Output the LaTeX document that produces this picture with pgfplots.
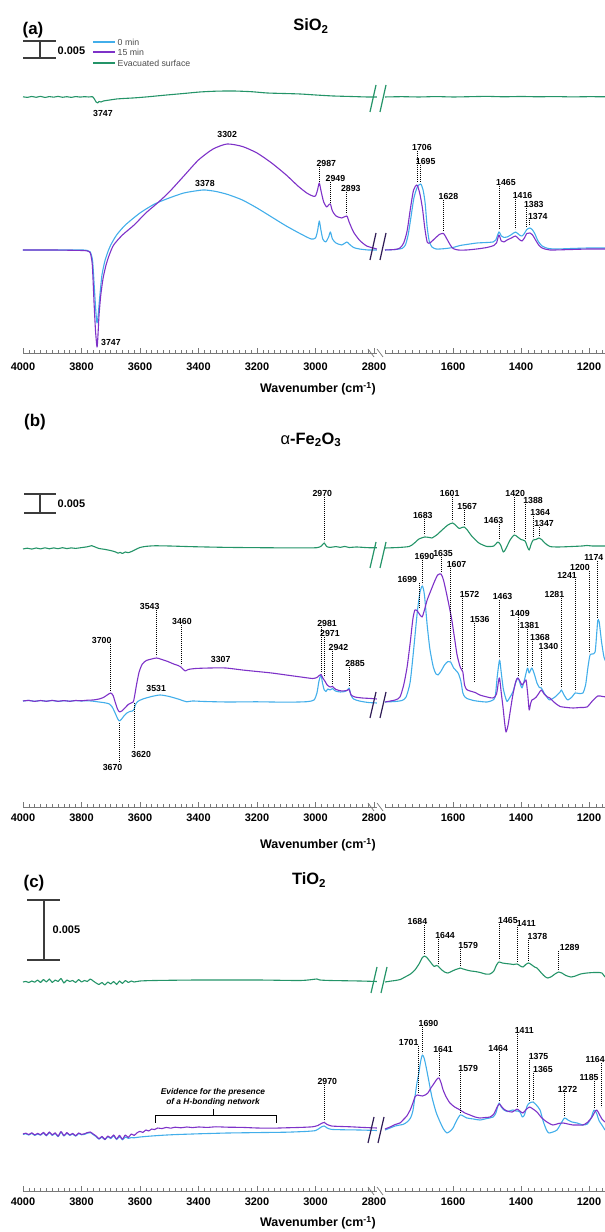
\documentclass[border=0pt]{standalone}
\usepackage{fontspec}
\setmainfont{Liberation Sans}
\usepackage{pgfplots}
\pgfplotsset{compat=1.18}

\definecolor{cblue}{RGB}{66,174,234}
\definecolor{cpurple}{RGB}{126,50,200}
\definecolor{cgreen}{RGB}{36,148,104}
\definecolor{cbrk}{RGB}{48,28,86}
\definecolor{caxis}{RGB}{120,120,120}
\definecolor{cbar}{RGB}{60,60,60}

\pgfplotsset{
  spec/.style={
    scale only axis, height=300bp, ymin=0, ymax=300,
    x dir=reverse, enlargelimits=false, clip=false,
    axis x line*=bottom, axis y line=none, ytick=\empty,
    tick align=inside, major tick length=5bp, minor tick length=2.5bp,
    every tick/.style={caxis, line width=0.6bp},
    x axis line style={caxis, line width=0.8bp},
    xticklabel style={font=\fontsize{11}{12}\selectfont\bfseries},
    /pgf/number format/assume math mode=true,
    /pgf/number format/1000 sep={},
    every axis plot/.append style={line width=1.1bp, line join=round, smooth, tension=0.4},
  },
  leftseg/.style={spec, xmin=2790, xmax=4000, width=353.9bp,
    xtick={2800,3000,...,4000}, minor xtick={2800,2820,...,4000}},
  rightseg/.style={spec, xmin=1150, xmax=1800, width=221bp,
    xtick={1200,1400,1600}, minor xtick={1160,1180,...,1800}},
}
\tikzset{
  lbl/.style={font=\fontsize{8.8}{10}\selectfont\bfseries, inner sep=0.5bp},
  dotl/.style={black, line width=0.7bp, dash pattern=on 0.9bp off 1.1bp},
  brk/.style={line width=1.2bp},
}
% peak label: [xshift]{wavenumber}{top of line}{bottom of line}{text}
\newcommand{\pk}[5][0]{%
  \draw[dotl] (#2,#3) -- (#2,#4);
  \node[lbl, anchor=south, xshift=#1bp] at (#2,#3) {#5};}
% break marks on the x axis (row of axis line)
\newcommand{\axbrk}[1]{%
  \draw[caxis, line width=0.7bp] (368,1232-#1+4) -- (374,1232-#1-4);
  \draw[caxis, line width=0.7bp] (377,1232-#1+4) -- (383,1232-#1-4);}
% break marks on a curve: colour, left x, top row, bottom row
\newcommand{\cbrk}[4]{%
  \draw[#1, brk] (#2,1232-#4) -- (#2+6,1232-#3);
  \draw[#1, brk] (#2+10,1232-#4) -- (#2+16,1232-#3);}
\newcommand{\tfont}{\fontsize{16.5}{18}\selectfont\bfseries}
\newcommand{\xlab}{\fontsize{12.5}{14}\selectfont\bfseries Wavenumber (cm\textsuperscript{-1})}

\begin{document}
\begin{tikzpicture}[x=1bp, y=1bp]
\useasboundingbox (0,0) rectangle (605,1232);

%=========================== (a) SiO2 ===========================
\begin{axis}[leftseg, xticklabel shift=6bp, at={(23bp,879bp)}, anchor=south west]
\addplot[cgreen] coordinates {
(4000,256.2) (3985,255.6) (3970,256.5) (3955,255.7) (3940,256.6) (3925,255.5)
(3910,256.4) (3895,255.8) (3880,256.6) (3865,255.7) (3850,256.3) (3835,255.6)
(3820,256.4) (3805,255.9) (3790,256.3) (3775,256.0) (3762,256.2) (3755,253.5)
(3750,251) (3745,250) (3740,251.5) (3733,251) (3725,252) (3715,252.5) (3703,253)
(3680,254) (3650,254.6) (3624,255) (3580,256) (3508,258) (3450,259.5) (3395,261)
(3340,261.8) (3282,262) (3220,261.3) (3166,260) (3110,259.5) (3053,259) (3000,258)
(2940,257) (2880,256.5) (2824,256) (2790,256)};
\addplot[cblue] coordinates {
(4000,103) (3900,103) (3800,103) (3780,102.5) (3770,101) (3762,92) (3756,65)
(3751,42) (3747,30) (3743,38) (3737,58) (3730,78) (3720,92) (3710,101) (3700,108)
(3680,118) (3650,128) (3600,140) (3550,149) (3500,155) (3450,160) (3400,162.5)
(3378,163) (3340,161.5) (3300,158.5) (3250,153) (3200,145) (3150,136) (3100,127)
(3050,119) (3015,114) (3000,115) (2993,122) (2987,132) (2982,124) (2975,114)
(2965,111) (2955,116) (2949,121) (2942,114) (2930,110) (2910,108) (2893,111)
(2885,109) (2870,105.5) (2850,104) (2820,103) (2790,103)};
\addplot[cpurple] coordinates {
(4000,103) (3900,103) (3800,102.5) (3780,102) (3770,100) (3763,88) (3757,50)
(3752,22) (3747,6) (3744,16) (3740,38) (3734,58) (3726,75) (3716,88) (3705,98)
(3690,108) (3660,118) (3620,128) (3580,140) (3540,150) (3500,161) (3450,177)
(3400,193) (3350,204) (3302,209) (3250,206.5) (3200,200) (3150,190) (3100,178)
(3060,167) (3030,160) (3010,157) (3000,157) (2993,163) (2987,170) (2981,162)
(2972,151) (2962,146) (2955,148) (2949,149) (2942,142) (2930,137) (2910,135)
(2893,137) (2885,131) (2870,121) (2850,113) (2825,107) (2790,104)};
\node[lbl, xshift=6bp] at (3747,239) {3747};
\node[lbl] at (3302,218) {3302};
\node[lbl] at (3378,169) {3378};
\node[lbl, xshift=14bp] at (3747,10) {3747};
\pk[7]{2987}{186}{171}{2987}
\pk[5]{2949}{171}{150}{2949}
\pk[4]{2893}{161}{139}{2893}
\end{axis}

\begin{axis}[rightseg, xticklabel shift=6bp, at={(385bp,879bp)}, anchor=south west]
\addplot[cgreen] coordinates {
(1800,256) (1750,256.3) (1700,256) (1650,256.4) (1600,256) (1550,256.3)
(1500,256.6) (1450,256.2) (1400,256.5) (1350,256.2) (1300,256.4) (1250,256.1)
(1200,256.3) (1150,256.2)};
\addplot[cblue] coordinates {
(1800,103) (1770,103.5) (1750,104.5) (1740,108) (1732,118) (1724,135) (1715,155)
(1705,166) (1695,169) (1688,163) (1682,150) (1676,126) (1670,112) (1662,106)
(1650,104) (1638,104) (1620,104.5) (1600,105.5) (1579,107.5) (1550,109)
(1529,110) (1500,110.5) (1482,111) (1474,113) (1465,121) (1458,117) (1450,115.5)
(1441,116) (1430,118) (1416,121) (1405,118) (1397,117) (1390,119.5) (1383,123.5)
(1374,125) (1366,123) (1359,119) (1350,112) (1338,107) (1320,104.5) (1294,104)
(1250,104.5) (1200,105) (1150,105)};
\addplot[cpurple] coordinates {
(1800,103) (1770,103.5) (1756,105) (1745,110) (1735,122) (1725,145) (1716,163)
(1706,168) (1698,160) (1690,145) (1683,125) (1676,111) (1668,110) (1655,114)
(1640,118.5) (1628,119.5) (1618,114) (1608,108) (1600,104.5) (1585,103)
(1560,103) (1530,104) (1500,105.5) (1480,107.5) (1472,110) (1465,118) (1458,112)
(1450,111) (1441,113) (1428,115) (1416,117) (1405,113.5) (1397,112) (1390,115)
(1383,119.5) (1374,120) (1366,118) (1359,114) (1348,108) (1338,105) (1315,103)
(1250,103.5) (1200,104) (1150,104)};
\pk[5]{1706}{202}{171}{1706}
\pk[5]{1695}{188}{171}{1695}
\pk[5]{1628}{153}{122}{1628}
\pk[7]{1465}{167}{124}{1465}
\pk[7]{1416}{154}{124}{1416}
\pk[7]{1383}{145}{126}{1383}
\pk[8]{1374}{133}{128}{1374}
\end{axis}

%=========================== (b) Fe2O3 ===========================
\begin{axis}[leftseg, xticklabel shift=3.5bp, at={(23bp,425bp)}, anchor=south west]
\addplot[cgreen] coordinates {
(4000,258) (3985,258.8) (3970,257.9) (3955,259) (3940,258.1) (3925,259.2)
(3910,258.2) (3895,259.1) (3880,258.3) (3865,259.3) (3850,258.4) (3835,259.1)
(3820,258.6) (3800,259.4) (3780,260.2) (3765,261.3) (3755,260.2) (3740,258.5)
(3720,257.6) (3700,256.4) (3685,255.2) (3675,253.8) (3668,254.6) (3660,253.5)
(3650,255) (3640,254.3) (3628,255.6) (3615,257.5) (3600,259.5) (3580,260.6)
(3550,261.2) (3500,261) (3420,260.3) (3300,259.6) (3150,259.2) (3050,259.1)
(2995,259.3) (2980,261) (2970,264) (2962,260.5) (2950,259.6) (2930,260.4)
(2915,259.6) (2900,260.6) (2885,259.5) (2860,260) (2820,259.3) (2790,259.2)};
\addplot[cblue] coordinates {
(4000,106) (3980,106.5) (3960,105.7) (3940,106.4) (3920,105.8) (3900,106.5)
(3880,105.6) (3860,106.3) (3840,105.8) (3820,106.4) (3800,106) (3780,106.2)
(3760,105.8) (3740,105) (3720,104.2) (3705,103) (3695,100) (3685,94) (3676,88)
(3670,86) (3664,87.5) (3655,91) (3645,94) (3635,95.5) (3626,96) (3621,97)
(3616,102) (3608,105.5) (3590,108) (3560,110.5) (3531,112) (3500,110.5)
(3470,108) (3450,106) (3440,105.2) (3420,106) (3380,105.5) (3300,105)
(3200,105.2) (3100,104.8) (3030,105.3) (3005,107) (2995,114) (2988,126)
(2981,132) (2976,124) (2970,117) (2964,115.5) (2958,118) (2950,117) (2942,118.5)
(2932,116) (2915,115) (2900,115.5) (2890,117) (2885,119) (2879,112) (2870,108)
(2850,106) (2820,104.5) (2790,104)};
\addplot[cpurple] coordinates {
(4000,106) (3980,106.6) (3960,105.6) (3940,106.5) (3920,105.7) (3900,106.6)
(3880,105.7) (3860,106.4) (3840,105.7) (3820,106.5) (3800,106.2) (3780,106.8)
(3760,107) (3740,108) (3725,109.5) (3712,112) (3700,114) (3692,111.5) (3685,105)
(3677,98) (3670,95) (3662,96) (3650,99.5) (3640,102.5) (3630,104) (3623,105)
(3619,110) (3612,122) (3603,135) (3592,143) (3578,146.5) (3560,148) (3543,149)
(3525,147.5) (3505,145.5) (3485,143) (3470,141.5) (3460,140) (3452,137.5)
(3445,136) (3435,137.5) (3410,138.5) (3360,139) (3307,139) (3250,137)
(3200,135.5) (3150,134) (3100,132) (3050,130) (3010,128.5) (2995,129.5)
(2987,131.5) (2981,132.5) (2975,129) (2968,126) (2960,122) (2950,120)
(2942,120.5) (2930,117.5) (2910,116) (2893,116.5) (2885,117.5) (2878,112)
(2865,110) (2840,109) (2810,108.5) (2790,108)};
\pk[-2]{2970}{310}{266}{2970}
\pk[-9]{3700}{163}{116}{3700}
\pk[-7]{3543}{197}{151}{3543}
\pk[1]{3460}{182}{142}{3460}
\pk[6]{2981}{180}{134}{2981}
\pk[6]{2971}{170}{130}{2971}
\pk[6]{2942}{156}{122}{2942}
\pk[6]{2885}{140}{121}{2885}
\node[lbl, xshift=-5bp] at (3307,148) {3307};
\node[lbl, xshift=-4bp] at (3531,119) {3531};
\draw[dotl] (3670,84) -- (3670,45);
\node[lbl, xshift=-7bp] at (3670,40) {3670};
\draw[dotl] (3620,104) -- (3620,58);
\node[lbl, xshift=7bp] at (3620,53) {3620};
\end{axis}

\begin{axis}[rightseg, xticklabel shift=3.5bp, at={(385bp,425bp)}, anchor=south west]
\addplot[cgreen] coordinates {
(1800,259) (1760,259.5) (1729,260.5) (1715,263.5) (1700,268) (1683,270)
(1670,269.5) (1662,269) (1648,272) (1632,277) (1615,282) (1601,284) (1590,281)
(1582,278.5) (1574,279.5) (1567,280) (1558,277) (1545,271) (1524,264)
(1500,260.5) (1480,261) (1468,265) (1460,262) (1452,255) (1445,258) (1432,267)
(1420,272) (1410,270) (1400,267.5) (1388,266) (1381,260) (1376,257) (1370,263)
(1364,267) (1356,267.5) (1347,269) (1338,267) (1330,264) (1315,260.5)
(1290,260) (1250,260.5) (1220,261) (1206,261.5) (1190,261) (1150,261)};
\addplot[cblue] coordinates {
(1800,105) (1770,105.5) (1750,106.5) (1738,110) (1726,125) (1715,160) (1705,195)
(1697,215) (1690,221) (1684,212) (1676,182) (1668,158) (1658,140) (1650,133)
(1644,132) (1635,136) (1625,142) (1615,145.5) (1607,145) (1598,139) (1585,134)
(1577,126) (1571,114) (1565,110) (1559,108.5) (1540,106.5) (1520,105.5)
(1500,105) (1485,106.5) (1476,110) (1470,130) (1463,147) (1458,134) (1452,118)
(1446,110) (1441,105.5) (1432,110) (1424,115) (1416,124) (1409,129) (1403,124)
(1397,119) (1390,127) (1381,139) (1376,134) (1368,139) (1360,132) (1353,124)
(1346,119.5) (1340,119) (1332,114) (1322,109) (1315,107) (1300,110) (1285,115)
(1281,117) (1275,113) (1268,109) (1262,107) (1250,110) (1241,114) (1230,113.5)
(1218,114) (1210,122) (1203,140) (1197,152) (1190,153) (1182,155) (1177,175)
(1174,187) (1170,185) (1163,165) (1156,150) (1150,145)};
\addplot[cpurple] coordinates {
(1800,105) (1770,107) (1756,110) (1745,122) (1735,140) (1726,164) (1718,188)
(1712,197) (1705,196) (1699,193) (1691,190) (1684,197) (1676,207) (1668,214)
(1655,225) (1645,232) (1635,233) (1628,227) (1620,215) (1612,202) (1604,188)
(1596,170) (1588,152) (1579,140) (1574,137) (1571,135) (1566,122) (1560,117.5)
(1550,116) (1535,114.5) (1521,112) (1500,110) (1482,109) (1472,113) (1466,126)
(1463,129) (1458,114) (1453,100) (1448,84) (1444,75) (1438,82) (1432,95)
(1424,112) (1415,126) (1409,129) (1402,125) (1397,122) (1390,125) (1385,127)
(1380,112) (1376,97) (1372,103) (1368,107) (1362,108) (1355,110) (1347,114)
(1340,117) (1332,113) (1322,110) (1315,109) (1300,104) (1285,100.5) (1265,99.5)
(1247,99) (1225,99.5) (1206,100) (1190,106) (1174,111) (1160,110.5) (1150,110)};
\pk[-2]{1683}{288}{272}{1683}
\pk[-3]{1601}{310}{286}{1601}
\pk[3]{1567}{297}{282}{1567}
\pk[-6]{1463}{283}{267}{1463}
\pk[1]{1420}{310}{274}{1420}
\pk[8]{1388}{303}{268}{1388}
\pk[7]{1364}{291}{269}{1364}
\pk[5]{1347}{280}{271}{1347}
\pk[-12]{1699}{224}{199}{1699}
\pk[2]{1690}{247}{223}{1690}
\pk[2]{1635}{250}{235}{1635}
\pk[6]{1607}{239}{147}{1607}
\pk[7]{1572}{209}{137}{1572}
\pk[5]{1536}{184}{125}{1536}
\pk[3]{1463}{207}{149}{1463}
\pk[2]{1409}{190}{131}{1409}
\pk[2]{1381}{178}{141}{1381}
\pk[8]{1368}{166}{141}{1368}
\pk[7]{1340}{157}{121}{1340}
\pk[-7]{1281}{209}{119}{1281}
\pk[-8]{1241}{228}{116}{1241}
\pk[-9]{1200}{236}{154}{1200}
\pk[-4]{1174}{246}{189}{1174}
\end{axis}

%=========================== (c) TiO2 ===========================
\begin{axis}[leftseg, xticklabel shift=3.5bp, at={(23bp,41bp)}, anchor=south west]
\addplot[cgreen] coordinates {
(4000,209) (3990,209.5) (3980,208.5) (3970,210) (3960,208.8) (3950,211)
(3940,208.5) (3930,211.5) (3920,209) (3910,212) (3900,208.5) (3890,211)
(3880,209.5) (3870,212.5) (3860,208) (3850,211) (3840,209.5) (3830,210.5)
(3820,208.5) (3810,211.5) (3800,209) (3790,210.5) (3780,209.5) (3770,212)
(3760,210) (3750,208) (3740,206.5) (3730,208.5) (3720,206) (3710,209) (3700,207)
(3690,209.5) (3680,206.5) (3670,210) (3660,207.5) (3650,210.5) (3640,208.5)
(3630,210) (3620,209) (3600,210) (3550,210.5) (3400,211) (3200,211) (3050,210.5)
(2995,212) (2985,211) (2950,210.5) (2850,210) (2790,209.5)};
\addplot[cblue] coordinates {
(4000,56.5) (3990,57.2) (3980,56) (3970,57.6) (3960,55.6) (3950,57) (3940,55.8)
(3930,58) (3920,55.2) (3910,58.4) (3900,55.6) (3890,57.6) (3880,54.4) (3870,58.8)
(3860,55) (3850,57.8) (3840,55.6) (3830,57) (3820,54.8) (3810,57.4) (3800,56.2)
(3790,56.6) (3780,57.8) (3770,58.4) (3760,56.4) (3750,54.4) (3740,51.8) (3730,54)
(3720,51.2) (3710,54.4) (3700,52.4) (3690,55.2) (3680,51.4) (3670,54.6)
(3660,51.2) (3650,54) (3640,52.6) (3630,53.4) (3620,53.2) (3600,54) (3560,55)
(3520,55.8) (3480,56.4) (3440,56.8) (3400,57.2) (3350,57.6) (3300,58) (3200,58.4)
(3100,58.8) (3030,59.6) (3000,60.4) (2990,62) (2980,64) (2970,65) (2960,63)
(2945,61.6) (2900,61.2) (2850,61) (2790,60.5)};
\addplot[cpurple] coordinates {
(4000,57) (3990,57.8) (3980,56.4) (3970,58.2) (3960,56) (3950,57.6) (3940,56.2)
(3930,58.6) (3920,55.6) (3910,59) (3900,56) (3890,58.2) (3880,54.8) (3870,59.4)
(3860,55.4) (3850,58.4) (3840,56) (3830,57.6) (3820,55.2) (3810,58) (3800,56.6)
(3790,57.2) (3780,58.4) (3770,59) (3760,57) (3750,55) (3740,52.2) (3730,54.6)
(3720,51.6) (3710,55) (3700,53) (3690,56) (3680,52) (3670,55.6) (3660,51.8)
(3650,56) (3640,53.4) (3630,57) (3620,55.6) (3610,58.2) (3600,59.6) (3590,58.6)
(3580,61) (3570,60) (3560,62) (3550,61.4) (3540,63) (3525,62.4) (3510,63.6)
(3495,62.8) (3480,63.8) (3460,63.2) (3440,64) (3420,63.4) (3400,64) (3370,63.6)
(3340,64.2) (3300,63.8) (3250,63.6) (3200,63) (3150,62.8) (3100,63.2) (3050,63.6)
(3010,64.2) (2992,65.5) (2980,67.5) (2970,68.5) (2960,66.5) (2945,65) (2920,64.6)
(2880,64.2) (2840,63.6) (2790,63)};
\pk[3]{2970}{106}{70}{2970}
\end{axis}

\begin{axis}[rightseg, xticklabel shift=3.5bp, at={(385bp,41bp)}, anchor=south west]
\addplot[cgreen] coordinates {
(1800,209) (1785,209.8) (1770,210.5) (1755,211.5) (1741,214) (1725,217) (1712,221)
(1700,227) (1690,233.5) (1684,235) (1677,233.5) (1671,231) (1662,227)
(1655,224.5) (1649,225.5) (1644,225) (1636,222) (1625,219) (1615,218)
(1605,219.5) (1592,221.5) (1582,222.5) (1579,223) (1570,222) (1560,221)
(1547,220) (1535,219.5) (1520,218.5) (1505,217) (1491,217) (1480,220) (1472,226)
(1465,229) (1455,228) (1445,227.5) (1432,227) (1422,226.5) (1411,227) (1402,225)
(1394,224) (1386,226.5) (1378,228) (1370,226.5) (1360,224) (1353,223) (1340,218)
(1330,214.5) (1321,213) (1310,214.5) (1300,217) (1289,219) (1280,218)
(1268,215.5) (1253,214) (1240,215) (1225,217) (1206,218) (1185,218.5)
(1170,218.5) (1162,218) (1153,214)};
\addplot[cblue] coordinates {
(1800,61) (1785,63) (1770,65) (1756,66) (1747,66.5) (1735,69) (1725,73) (1718,80)
(1712,94) (1706,108) (1701,117) (1695,130) (1690,136) (1685,133) (1679,124)
(1670,108) (1662,94) (1650,79) (1638,69) (1628,62) (1618,58) (1608,60) (1600,63)
(1590,70) (1579,76) (1570,75) (1559,73) (1540,72) (1521,71) (1500,72.5) (1482,74)
(1474,78) (1468,85) (1464,88) (1458,84) (1450,81) (1440,79.5) (1424,81)
(1415,80) (1409,80) (1403,79) (1396,74) (1390,76) (1382,85) (1375,88) (1365,89)
(1355,86) (1344,81) (1335,70) (1325,61) (1318,58) (1306,59) (1294,61) (1285,66)
(1272,73) (1262,71) (1250,69) (1235,68) (1218,66) (1205,67) (1195,72) (1188,79)
(1184,81) (1178,78) (1170,70) (1162,66) (1153,61)};
\addplot[cpurple] coordinates {
(1800,62) (1785,64) (1770,66.5) (1756,68) (1747,71) (1736,75) (1726,81) (1718,88)
(1712,94) (1705,96) (1698,95.5) (1690,95) (1682,96) (1674,98) (1665,103)
(1655,108) (1647,112) (1641,113) (1635,108) (1629,101) (1620,94) (1609,88)
(1595,84) (1579,81) (1565,78) (1550,76) (1535,74) (1521,73) (1505,73.5)
(1491,74) (1480,77) (1470,84) (1464,87) (1456,84) (1447,81) (1436,79.5)
(1426,79) (1418,80.5) (1411,82) (1402,79.5) (1394,78) (1385,81.5) (1375,84)
(1365,82) (1353,79) (1340,73.5) (1324,69) (1306,66) (1290,67.5) (1276,68)
(1262,67) (1247,66) (1232,66) (1218,66) (1205,68.5) (1191,74) (1183,79)
(1177,81) (1170,77) (1162,72) (1153,69)};
\pk[-7]{1684}{266}{237}{1684}
\pk[7]{1644}{252}{227}{1644}
\pk[8]{1579}{242}{225}{1579}
\pk[9]{1465}{267}{231}{1465}
\pk[9]{1411}{264}{229}{1411}
\pk[9]{1378}{251}{230}{1378}
\pk[11]{1289}{240}{221}{1289}
\pk[-10]{1701}{145}{98}{1701}
\pk[6]{1690}{164}{138}{1690}
\pk[4]{1641}{138}{115}{1641}
\pk[8]{1579}{119}{78}{1579}
\pk[-1]{1464}{139}{90}{1464}
\pk[7]{1411}{157}{84}{1411}
\pk[9]{1375}{131}{90}{1375}
\pk[10]{1365}{118}{90}{1365}
\pk[3]{1272}{98}{75}{1272}
\pk[-5]{1185}{110}{83}{1185}
\pk[-6]{1164}{128}{84}{1164}
\end{axis}

%=========================== decorations ===========================
% panel letters and titles
\node[font=\fontsize{17}{19}\selectfont\bfseries] at (33,1232-30) {(a)};
\node[font=\fontsize{17}{19}\selectfont\bfseries] at (35,1232-422) {(b)};
\node[font=\fontsize{17}{19}\selectfont\bfseries] at (34,1232-883) {(c)};
\node[font=\tfont] at (311,1232-26) {SiO\textsubscript{2}};
\node[font=\tfont] at (311,1232-440) {{\mdseries α}-Fe\textsubscript{2}O\textsubscript{3}};
\node[font=\tfont] at (309,1232-880) {TiO\textsubscript{2}};
% x labels
\node at (318,1232-389) {\xlab};
\node at (318,1232-845) {\xlab};
\node at (318,1232-1223) {\xlab};
% axis breaks
\axbrk{353}
\axbrk{807}
\axbrk{1191}
% curve breaks
\cbrk{cgreen}{370}{85}{112}
\cbrk{cbrk}{370}{233}{260}
\cbrk{cgreen}{370}{542}{568}
\cbrk{cbrk}{370}{692}{718}
\cbrk{cgreen}{371}{967}{993}
\cbrk{cbrk}{368}{1117}{1143}
% scale bars
\begin{scope}[cbar, line width=1.2bp]
\draw (23,1232-41) -- (56,1232-41);
\draw (23,1232-58) -- (56,1232-58);
\draw (40,1232-41) -- (40,1232-58);
\draw (24,1232-494) -- (56,1232-494);
\draw (24,1232-513) -- (56,1232-513);
\draw (40,1232-494) -- (40,1232-513);
\draw (27,1232-900) -- (60,1232-900);
\draw (27,1232-960) -- (60,1232-960);
\draw (44,1232-900) -- (44,1232-960);
\end{scope}
\node[anchor=west, inner sep=0.5bp, font=\fontsize{11}{12}\selectfont\bfseries] at (57,1232-51) {0.005};
\node[anchor=west, inner sep=0.5bp, font=\fontsize{11}{12}\selectfont\bfseries] at (57,1232-504) {0.005};
\node[anchor=west, inner sep=0.5bp, font=\fontsize{11}{12}\selectfont\bfseries] at (52,1232-930) {0.005};
% legend
\draw[cblue, line width=1.1bp] (93,1232-42) -- (115,1232-42);
\draw[cpurple, line width=1.1bp] (93,1232-52) -- (115,1232-52);
\draw[cgreen, line width=1.1bp] (93,1232-63) -- (115,1232-63);
\begin{scope}[every node/.style={anchor=west, inner sep=0.5bp, text=black!70, font=\fontsize{8.8}{10}\selectfont}]
\node at (117,1232-42) {0 min};
\node at (117,1232-52) {15 min};
\node at (117,1232-63) {Evacuated surface};
\end{scope}
% H-bonding annotation
\draw[black, line width=0.8bp] (155,1232-1123) -- (155,1232-1115) -- (276,1232-1115) -- (276,1232-1123);
\draw[black, line width=0.8bp] (213,1232-1115) -- (213,1232-1109);
\node[align=center, font=\fontsize{8.4}{10}\selectfont\bfseries\itshape] at (213,1232-1097)
  {Evidence for the presence\\of a H-bonding network};
\end{tikzpicture}
\end{document}
